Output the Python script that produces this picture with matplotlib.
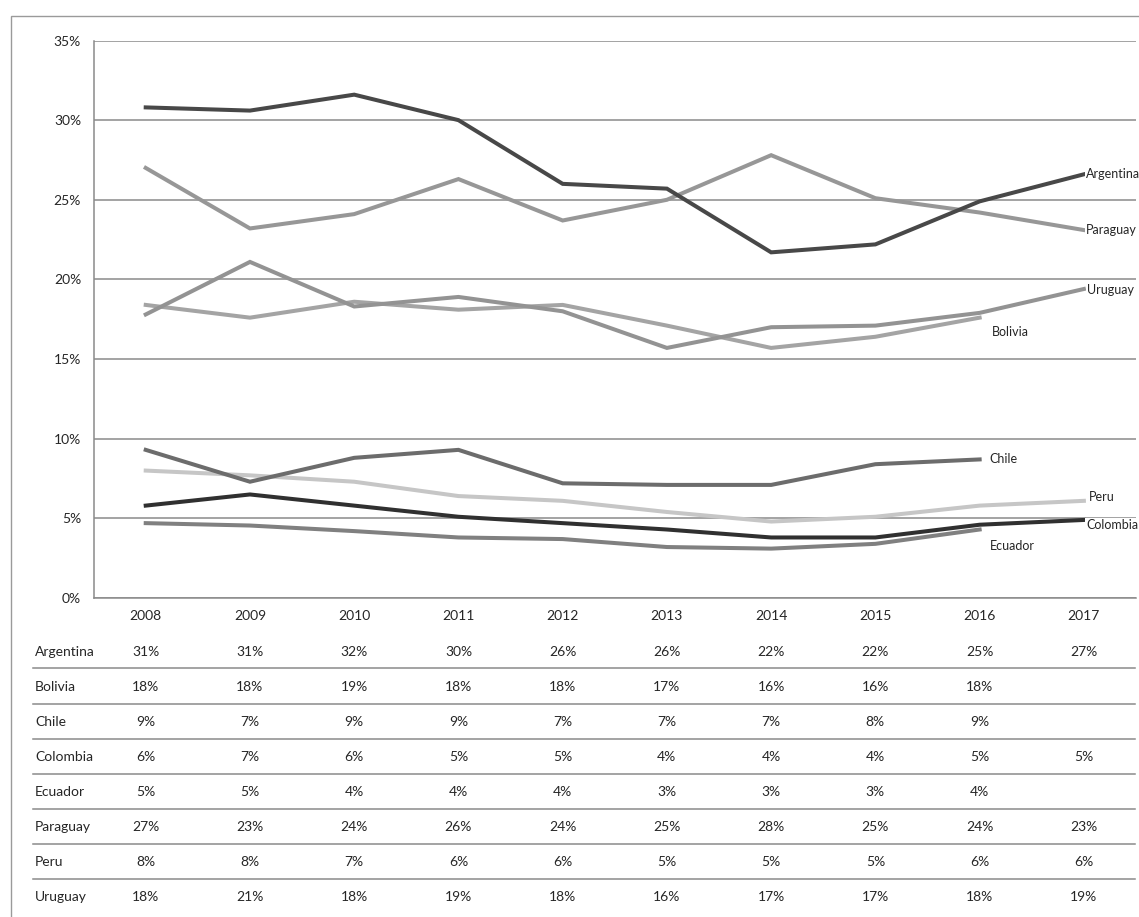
import matplotlib
matplotlib.use("Agg")
import matplotlib.pyplot as plt
from matplotlib.lines import Line2D
from matplotlib.patches import Rectangle
from matplotlib.transforms import ScaledTranslation, blended_transform_factory
import math

plt.rcParams['font.family'] = ['Lato', 'DejaVu Sans']

years = ["2008", "2009", "2010", "2011", "2012", "2013", "2014", "2015", "2016", "2017"]
countries = ["Argentina", "Bolivia", "Chile", "Colombia", "Ecuador", "Paraguay", "Peru", "Uruguay"]

argentina = [30.8, 30.6, 31.6, 30.0, 26.0, 25.7, 21.7, 22.2, 24.9, 26.6]
bolivia   = [18.4, 17.6, 18.6, 18.1, 18.4, 17.1, 15.7, 16.4, 17.6]
chile     = [9.3, 7.3, 8.8, 9.3, 7.2, 7.1, 7.1, 8.4, 8.7]
colombia  = [5.8, 6.5, 5.8, 5.1, 4.7, 4.3, 3.8, 3.8, 4.6, 4.9]
ecuador   = [4.7, 4.55, 4.2, 3.8, 3.7, 3.2, 3.1, 3.4, 4.3]
paraguay  = [27.0, 23.2, 24.1, 26.3, 23.7, 25.0, 27.8, 25.1, 24.2, 23.1]
peru      = [8.0, 7.7, 7.3, 6.4, 6.1, 5.4, 4.8, 5.1, 5.8, 6.1]
uruguay   = [17.8, 21.1, 18.3, 18.9, 18.0, 15.7, 17.0, 17.1, 17.9, 19.4]

yticks = [0, 5, 10, 15, 20, 25, 30, 35]

series = [argentina, bolivia, chile, colombia, ecuador, paraguay, peru, uruguay]

colors = {"Argentina": "#484848", "Bolivia": "#a4a4a4", "Chile": "#6c6c6c",
          "Colombia": "#303030", "Ecuador": "#808080", "Paraguay": "#979797",
          "Peru": "#c6c6c6", "Uruguay": "#939393"}
# label offsets in pixels (dx right, dy down)
offsets = {"Argentina": (2, 0), "Paraguay": (2, 0), "Uruguay": (3, 1),
           "Peru": (5, -4), "Colombia": (2, 5), "Bolivia": (12, 14),
           "Chile": (10, 0), "Ecuador": (10, 16)}
zorder = {"Peru": 2, "Bolivia": 2.1, "Uruguay": 2.2, "Paraguay": 2.3, "Ecuador": 2.4,
          "Chile": 2.5, "Argentina": 2.7, "Colombia": 2.8}

W, H = 1139, 917
fig = plt.figure(figsize=(W / 100, H / 100), dpi=100)
fig.patch.set_facecolor("white")

ax = fig.add_axes([93.6 / W, 1 - 598 / H, (1136 - 93.6) / W, (598 - 40.5) / H])
ax.set_xlim(-0.5, len(years) - 0.5)
ax.set_ylim(0, 35)

txt_c = "#262626"
grid_c = "#8a8a8a"
ax.set_yticks(yticks)
ax.set_yticklabels([f"{t}%" for t in yticks])
ax.set_xticks(range(len(years)))
ax.set_xticklabels(years)
ax.tick_params(axis="both", length=0, labelsize=10, colors=txt_c)
ax.tick_params(axis="y", pad=9)
ax.tick_params(axis="x", pad=8.5)
ax.grid(axis="y", color=grid_c, lw=1.1)
ax.set_axisbelow(True)
for s in ["top", "right"]:
    ax.spines[s].set_visible(False)
for s in ["left", "bottom"]:
    ax.spines[s].set_color(grid_c)
    ax.spines[s].set_linewidth(1.1)

for name, vals in zip(countries, series):
    xs = list(range(len(vals)))
    ax.plot(xs, vals, color=colors[name], lw=2.9, solid_joinstyle="miter",
            zorder=zorder[name], clip_on=False)
    dx, dy = offsets[name]
    tr = ax.transData + ScaledTranslation(dx / 100, -dy / 100, fig.dpi_scale_trans)
    ax.text(xs[-1], vals[-1], name, transform=tr, ha="left", va="center",
            fontsize=9, color=txt_c, clip_on=False, zorder=5,
            bbox=dict(facecolor="white", edgecolor="none", pad=0.5))

# data table below the chart
tb = blended_transform_factory(ax.transData, fig.transFigure)
row_y = [651.5, 686.7, 721.7, 756.7, 791.7, 826.7, 861.7, 896.7]
sep_y = [668.3, 703.5, 738.7, 774, 809, 844.3, 879.3]
for yy in sep_y:
    fig.add_artist(Line2D([33 / W, 1135 / W], [1 - yy / H, 1 - yy / H],
                          color=grid_c, lw=1.1))
for name, vals, yy in zip(countries, series, row_y):
    fig.text(35 / W, 1 - yy / H, name, ha="left", va="center", fontsize=10,
             color=txt_c)
    for i, v in enumerate(vals):
        ax.text(i, 1 - yy / H, f"{int(math.floor(v + 0.5))}%", transform=tb,
                ha="center", va="center", fontsize=10, color=txt_c, clip_on=False)

# outer border
fig.add_artist(Rectangle((11 / W, -0.01), 1.05, 1 - 16.5 / H + 0.01,
                         transform=fig.transFigure, fill=False,
                         edgecolor="#9a9a9a", lw=1.0))

fig.savefig("out.png", dpi=100, facecolor="white")
